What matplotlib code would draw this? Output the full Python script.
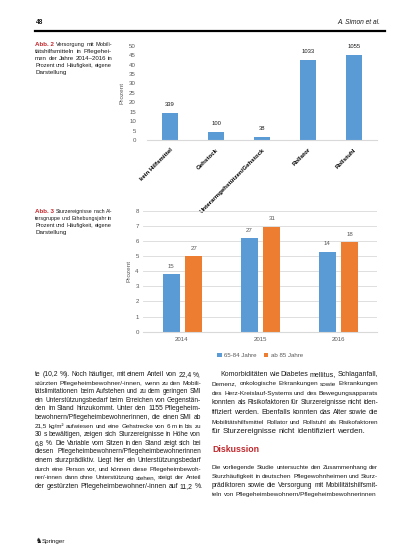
import matplotlib.pyplot as plt
import numpy as np

plt.rcParams['font.family'] = ['Liberation Sans', 'DejaVu Sans']

# Abb. 2 data
AIDS = ['kein Hilfsmittel', 'Gehstock', 'Unterarmgehstützen/Gehstock', 'Rollator', 'Rollstuhl']
AIDS_PCT = [14.4, 4.4, 1.7, 42.6, 44.9]
AIDS_N = ['339', '100', '38', '1033', '1055']

# Abb. 3 data
YEARS = ['2014', '2015', '2016']
AGE_GROUPS = ['65-84 Jahre', 'ab 85 Jahre']
FALLS_65_84 = [3.8, 6.2, 5.3]
FALLS_85 = [5.0, 6.95, 5.9]
FALLS_65_84_N = ['15', '27', '14']
FALLS_85_N = ['27', '31', '18']

CAPTION_2 = ['Versorgung mit Mobili-', 'tätshilfsmitteln in Pflegehei-',
             'men der Jahre 2014–2016 in', 'Prozent und Häufigkeit, eigene', 'Darstellung']
CAPTION_3 = ['Sturzereignisse nach Al-', 'tersgruppe und Erhebungsjahr in',
             'Prozent und Häufigkeit, eigene', 'Darstellung']

LEFT_COL = [
    'te (10,2 %). Noch häufiger, mit einem Anteil von 22,4 %,',
    'stürzten Pflegeheimbewohner/-innen, wenn zu den Mobili-',
    'tätslimitationen beim Aufstehen und zu dem geringen SMI',
    'ein Unterstützungsbedarf beim Erreichen von Gegenstän-',
    'den im Stand hinzukommt. Unter den 1155 Pflegeheim-',
    'bewohnern/Pflegeheimbewohnerinnen, die einen SMI ab',
    '21,5 kg/m² aufwiesen und eine Gehstrecke von 6 m in bis zu',
    '30 s bewältigen, zeigen sich Sturzereignisse in Höhe von',
    '6,8 %. Die Variable vom Sitzen in den Stand zeigt sich bei',
    'diesen Pflegeheimbewohnern/Pflegeheimbewohnerinnen',
    'einem sturzprädiktiv. Liegt hier ein Unterstützungsbedarf',
    'durch eine Person vor, und können diese Pflegeheimbewoh-',
    'ner/-innen dann ohne Unterstützung stehen, steigt der Anteil',
    'der gestürzten Pflegeheimbewohner/-innen auf 11,2 %.',
]
RIGHT_COL = [
    'Komorbiditäten wie Diabetes mellitus, Schlaganfall,',
    'Demenz, onkologische Erkrankungen sowie Erkrankungen',
    'des Herz-Kreislauf-Systems und des Bewegungsapparats',
    'konnten als Risikofaktoren für Sturzereignisse nicht iden-',
    'tifiziert werden. Ebenfalls konnten das Alter sowie die',
    'Mobilitätshilfsmittel Rollator und Rollstuhl als Risikofaktoren',
    'für Sturzereignisse nicht identifiziert werden.',
]
DISCUSSION = [
    'Die vorliegende Studie untersuchte den Zusammenhang der',
    'Sturzhäufigkeit in deutschen Pflegewohnheimen und Sturz-',
    'prädiktoren sowie die Versorgung mit Mobilitätshilfsmit-',
    'teln von Pflegeheimbewohnern/Pflegeheimbewohnerinnen',
]

BLUE = '#5B9BD5'
ORANGE = '#ED7D31'
RED = '#C0282D'
GREY = '#595959'
INK = '#1a1a1a'

fig = plt.figure(figsize=(4.13, 5.49), dpi=100)
page = fig.add_axes([0, 0, 1, 1], zorder=0)
page.set_xlim(0, 413)
page.set_ylim(549, 0)
page.axis('off')
rend = fig.canvas.get_renderer()


def put_lines(lines, x0, width, y0, step, fs, indent=0, color=INK):
    '''justified block of text placed word by word, last line left aligned'''
    for i, line in enumerate(lines):
        y = y0 + i * step + 2
        x = x0 + (indent if i == 0 else 0)
        avail = x0 + width - x
        words = line.split()
        arts = [page.text(0, y, w, fontsize=fs, va='baseline', color=color) for w in words]
        widths = [a.get_window_extent(rend).width for a in arts]
        space = 0.25 * fs * 100 / 72
        natural = sum(widths) + space * (len(words) - 1)
        if natural > avail:
            scale = avail / natural
            for a in arts:
                a.set_fontsize(fs * scale)
            widths = [a.get_window_extent(rend).width for a in arts]
            space *= scale
        if i < len(lines) - 1 and len(words) > 1:
            space = (avail - sum(widths)) / (len(words) - 1)
        for a, w in zip(arts, widths):
            a.set_x(x)
            x += w + space


# header
page.text(36, 22, '48', fontsize=4.8, fontweight='bold', va='center', color=INK)
page.text(380, 22, 'A. Simon et al.', fontsize=4.8, style='italic', va='center', ha='right', color=INK)
page.plot([35, 385], [31, 31], color='black', lw=1.6)

# captions
cap_fs = 4.5
for lines, y0, lab in [(CAPTION_2, 44, 'Abb. 2'), (CAPTION_3, 211, 'Abb. 3')]:
    t = page.text(35, y0 + 2, lab, fontsize=cap_fs, fontweight='bold', color=RED, va='baseline')
    w = t.get_window_extent(rend).width
    put_lines(lines, 35, 77, y0, 7, cap_fs, indent=w + 2)

# body text
body_fs = 5.6
put_lines(LEFT_COL, 35, 166, 374, 8.6, body_fs)
put_lines(RIGHT_COL, 212, 166, 374, 9.5, body_fs, indent=8)
page.text(212, 450, 'Diskussion', fontsize=6.3, fontweight='bold', color=RED, va='center')
put_lines(DISCUSSION, 212, 166, 467, 9.0, body_fs)

page.text(36, 541, '\u265e', fontsize=5, va='center', color=INK, family=['DejaVu Sans'])
page.text(42, 541, 'Springer', fontsize=4.5, va='center', color=INK)

# Abb. 2 chart
ax1 = fig.add_axes([147 / 413, 1 - 140 / 549, 230 / 413, 94.3 / 549], zorder=1)
ax1.patch.set_alpha(0)
x1 = np.arange(len(AIDS))
ax1.bar(x1, AIDS_PCT, width=0.33, color=BLUE)
for xi, v, n in zip(x1, AIDS_PCT, AIDS_N):
    ax1.text(xi, v + 3.2, n, ha='center', va='bottom', fontsize=4.2, color=INK)
ax1.set_xlim(-0.5, len(AIDS) - 0.5)
ax1.set_ylim(0, 50)
ax1.set_yticks(np.arange(0, 51, 5))
ax1.set_xticks(x1)
ax1.set_xticklabels(AIDS, rotation=45, ha='right', rotation_mode='anchor',
                    fontsize=4.6, fontweight='bold', color='black')
ax1.tick_params(axis='both', length=0, labelsize=4.4, colors=GREY)
ax1.tick_params(axis='x', pad=5, colors='black')
ax1.tick_params(axis='y', pad=8)
for s in ['top', 'right', 'left']:
    ax1.spines[s].set_visible(False)
ax1.spines['bottom'].set_color('#D9D9D9')
ax1.set_ylabel('Prozent', fontsize=4.6, color=GREY, labelpad=3)

# Abb. 3 chart
ax2 = fig.add_axes([143 / 413, 1 - 331.7 / 549, 234 / 413, 121 / 549], zorder=1)
ax2.patch.set_alpha(0)
x2 = np.arange(len(YEARS))
ax2.bar(x2 - 0.14, FALLS_65_84, width=0.22, color=BLUE, label=AGE_GROUPS[0], zorder=2)
ax2.bar(x2 + 0.15, FALLS_85, width=0.22, color=ORANGE, label=AGE_GROUPS[1], zorder=2)
for xi, v, n in zip(x2 - 0.14, FALLS_65_84, FALLS_65_84_N):
    ax2.text(xi, v + 0.35, n, ha='center', va='bottom', fontsize=4.4, color=GREY)
for xi, v, n in zip(x2 + 0.15, FALLS_85, FALLS_85_N):
    ax2.text(xi, v + 0.35, n, ha='center', va='bottom', fontsize=4.4, color=GREY)
ax2.set_xlim(-0.5, len(YEARS) - 0.5)
ax2.set_ylim(0, 8)
ax2.set_yticks(np.arange(0, 9, 1))
ax2.set_xticks(x2)
ax2.set_xticklabels(YEARS)
ax2.tick_params(axis='both', length=0, labelsize=4.4, colors=GREY)
ax2.tick_params(axis='y', pad=3)
ax2.tick_params(axis='x', pad=4)
ax2.grid(axis='y', color='#D9D9D9', lw=0.6, zorder=0)
for s in ['top', 'right', 'left']:
    ax2.spines[s].set_visible(False)
ax2.spines['bottom'].set_color('#D9D9D9')
ax2.set_ylabel('Prozent', fontsize=4.6, color=GREY, labelpad=3)
ax2.legend(loc='upper center', bbox_to_anchor=(0.5, -0.13), ncol=2, frameon=False,
           fontsize=4.4, handlelength=0.7, handleheight=0.7, handletextpad=0.4,
           columnspacing=1.2, labelcolor=GREY)

fig.savefig('out.png', dpi=100)
